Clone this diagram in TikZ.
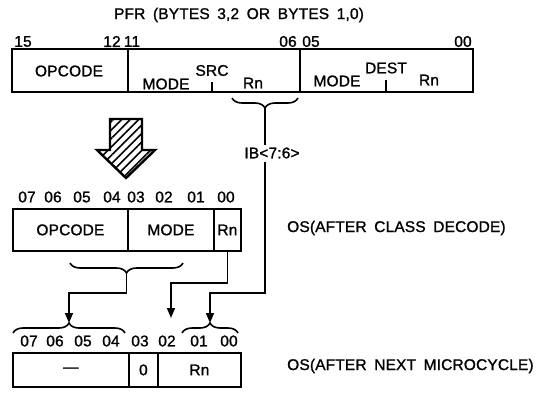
\documentclass[tikz,border=0pt]{standalone}
\usepackage{fontspec}
\setmainfont{Liberation Sans}[LetterSpace=1,WordSpace=1.7,FakeBold=1.2]
\usetikzlibrary{arrows.meta,decorations.pathreplacing,patterns.meta}
\begin{document}
\begin{tikzpicture}[x=1pt,y=-1pt,
  box/.style={draw,line width=1.8pt,inner sep=0pt,anchor=north west,font=\fontsize{15.5}{15.5}\selectfont},
  lbl/.style={font=\fontsize{15.5}{15.5}\selectfont,inner sep=0pt},
  conn/.style={line width=1.6pt},
  arr/.style={conn,-{Triangle[length=10pt,width=8pt]}},
  brc/.style={conn,decorate,decoration={brace,amplitude=10pt}},
]
\useasboundingbox (0,0) rectangle (552,394);
% title
\node[lbl] (title) at (239,15) {PFR (BYTES 3,2 OR BYTES 1,0)};
% top register
\node[box,minimum width=116pt,minimum height=43pt] (t1) at (11,48) {};
\node[box,minimum width=172pt,minimum height=43pt] (t2) at (127,48) {};
\node[box,minimum width=173pt,minimum height=43pt] (t3) at (299,48) {};
\node[lbl] (t1txt) at (69,71) {OPCODE};
\node[lbl] (srcmode) at (166,84) {MODE};
\node[lbl] (src) at (212,70.5) {SRC};
\node[lbl] (srcrn) at (253,83) {Rn};
\node[lbl] (dstmode) at (337,81) {MODE};
\node[lbl] (dst) at (386,68) {DEST};
\node[lbl] (dstrn) at (429,80) {Rn};
\draw[conn] (src.south |- t2.south) -- ++(0,-11);
\draw[conn] (dst.south |- t3.south) -- ++(0,-13);
\foreach \n/\x/\t in {a/23/15,b/112/12,c/132/11,d/288/06,e/311/05,f/463/00}
  \node[lbl] (tb\n) at (\x,41.5) {\t};
% hatched arrow
\draw[line width=2.4pt,line join=miter,pattern={Lines[angle=45,distance=6pt,line width=1.6pt]}]
  (110,119) -- (142,119) -- (142,150) -- (155,150) -- (126,178) -- (97,150) -- (110,150) -- cycle;
% brace under SRC Rn and IB line
\draw[brc] (298,98) -- (232,98);
\coordinate (ibtip) at (265,108);
% middle register
\node[box,minimum width=115pt,minimum height=42pt] (m1) at (12,208) {OPCODE};
\node[box,minimum width=86pt,minimum height=42pt] (m2) at (127,208) {MODE};
\node[box,minimum width=27pt,minimum height=42pt] (m3) at (213,208) {Rn};
\foreach \n/\x/\t in {a/27/07,b/53/06,c/82/05,d/112/04,e/136/03,f/164/02,g/196/01,h/226/00}
  \node[lbl] (mb\n) at (\x,197) {\t};
\node[lbl,anchor=west] (os1) at (287,228) {OS(AFTER CLASS DECODE)};
% brace under OPCODE/MODE
\draw[brc] (183,263) -- (70,263);
\coordinate (mtip) at (126.5,274);
% bottom register
\foreach \n/\x/\t in {a/29/07,b/55/06,c/83/05,d/111/04,e/140/03,f/167/02,g/199/01,h/229/00}
  \node[lbl] (bb\n) at (\x,341) {\t};
\draw[brc] (13,333) -- (125,333);
\draw[brc] (182,333) -- (238,333);
\coordinate (blt) at (69,323);
\coordinate (brt) at (210,323);
\node[box,minimum width=116pt,minimum height=34pt] (b1) at (12,352) {—};
\node[box,minimum width=29pt,minimum height=34pt] (b2) at (128,352) {0};
\node[box,minimum width=83pt,minimum height=34pt] (b3) at (157,352) {Rn};
\node[lbl,anchor=west] (os2) at (287,366) {OS(AFTER NEXT MICROCYCLE)};
% connectors
\draw[conn] (ibtip) -- (265,146);
\node[lbl,fill=white,inner xsep=1pt,inner ysep=3pt] (ib) at (272,153) {IB<7:6>};
\draw[arr] (ib.south -| ibtip) |- (brt |- 0,293) -- (brt);
\draw[arr] (mtip) |- (blt |- 0,293) -- (blt);
\draw[arr] (m3.south) |- (171,283) -- (171,318);
\end{tikzpicture}
\end{document}
